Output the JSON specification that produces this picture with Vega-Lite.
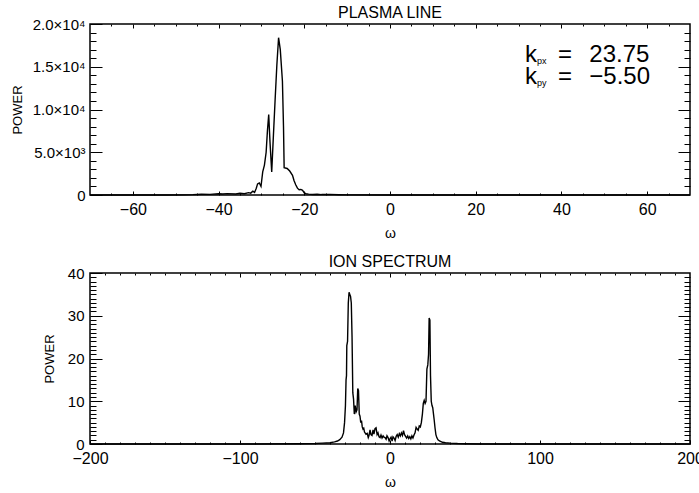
{
  "$schema": "https://vega.github.io/schema/vega-lite/v6.json",
  "padding": {"left": 10, "top": 4, "right": 0, "bottom": 0},
  "spacing": 12,
  "datasets": {
    "plasma": [
      {"w": -70, "p": 0}, {"w": -60, "p": 0}, {"w": -52, "p": 5}, {"w": -48, "p": 15}, {"w": -46, "p": 40},
      {"w": -44, "p": 90}, {"w": -42, "p": 70}, {"w": -40, "p": 140}, {"w": -39, "p": 110}, {"w": -38, "p": 160},
      {"w": -36, "p": 120}, {"w": -35, "p": 200}, {"w": -34, "p": 150}, {"w": -33, "p": 280}, {"w": -32.5, "p": 220},
      {"w": -32, "p": 450}, {"w": -31.6, "p": 300}, {"w": -31.2, "p": 800}, {"w": -30.9, "p": 1300}, {"w": -30.5, "p": 1400},
      {"w": -30.1, "p": 1000}, {"w": -29.7, "p": 2700}, {"w": -29.3, "p": 3500}, {"w": -28.9, "p": 5000}, {"w": -28.6, "p": 7500},
      {"w": -28.3, "p": 9400}, {"w": -28.0, "p": 6200}, {"w": -27.6, "p": 2700}, {"w": -27.2, "p": 7000}, {"w": -26.8, "p": 11200},
      {"w": -26.4, "p": 15200}, {"w": -26.0, "p": 18400}, {"w": -25.6, "p": 17000}, {"w": -25.1, "p": 13300}, {"w": -24.85, "p": 8000},
      {"w": -24.7, "p": 3200}, {"w": -24.0, "p": 3100}, {"w": -23.4, "p": 2800}, {"w": -22.75, "p": 2300}, {"w": -22.4, "p": 1700},
      {"w": -22.0, "p": 1200}, {"w": -21.6, "p": 800}, {"w": -21.2, "p": 620}, {"w": -20.8, "p": 650}, {"w": -20.4, "p": 550},
      {"w": -20.0, "p": 250}, {"w": -19.6, "p": 150}, {"w": -19, "p": 100}, {"w": -18, "p": 60}, {"w": -17, "p": 90},
      {"w": -16, "p": 50}, {"w": -14, "p": 70}, {"w": -12, "p": 30}, {"w": -10, "p": 10}, {"w": 0, "p": 0}, {"w": 70, "p": 0}
    ],
    "ion": [
      {"w": -200, "p": 0}, {"w": -100, "p": 0}, {"w": -60, "p": 0.05}, {"w": -50, "p": 0.1}, {"w": -45, "p": 0.2},
      {"w": -40, "p": 0.3}, {"w": -37, "p": 0.5}, {"w": -35, "p": 0.7}, {"w": -33.5, "p": 1.0}, {"w": -32, "p": 1.6},
      {"w": -31, "p": 2.6}, {"w": -30.3, "p": 5}, {"w": -29.7, "p": 9}, {"w": -29.3, "p": 15}, {"w": -29.0, "p": 16},
      {"w": -28.8, "p": 23}, {"w": -28.3, "p": 24}, {"w": -27.8, "p": 33}, {"w": -27.3, "p": 35.5}, {"w": -26.8, "p": 35},
      {"w": -26.3, "p": 34.5}, {"w": -25.8, "p": 33}, {"w": -25.3, "p": 25}, {"w": -24.8, "p": 12}, {"w": -24.3, "p": 10.5},
      {"w": -23.8, "p": 7}, {"w": -23.2, "p": 9}, {"w": -22.6, "p": 7.5}, {"w": -22.0, "p": 8}, {"w": -21.5, "p": 13},
      {"w": -21.0, "p": 12.5}, {"w": -20.5, "p": 7}, {"w": -20.0, "p": 6.5}, {"w": -19.5, "p": 5}, {"w": -19.0, "p": 5.5},
      {"w": -18.5, "p": 4}, {"w": -18.0, "p": 3.5}, {"w": -17.5, "p": 3.7}, {"w": -17.0, "p": 2.8}, {"w": -16.0, "p": 2.3},
      {"w": -15.2, "p": 2.5}, {"w": -14.5, "p": 1.5}, {"w": -14.0, "p": 2.0}, {"w": -13.3, "p": 3.3}, {"w": -12.7, "p": 2.2},
      {"w": -12.0, "p": 2.0}, {"w": -11.3, "p": 3.3}, {"w": -10.7, "p": 2.3}, {"w": -10.0, "p": 3.6}, {"w": -9.3, "p": 3.8},
      {"w": -8.6, "p": 2.2}, {"w": -8.0, "p": 2.6}, {"w": -7.3, "p": 1.7}, {"w": -6.6, "p": 1.5}, {"w": -6.0, "p": 2.1},
      {"w": -5.3, "p": 1.4}, {"w": -4.6, "p": 1.9}, {"w": -4.0, "p": 1.6}, {"w": -3.3, "p": 1.5}, {"w": -2.6, "p": 1.1},
      {"w": -2.0, "p": 1.9}, {"w": -1.3, "p": 1.5}, {"w": -0.6, "p": 0.7}, {"w": 0.0, "p": 1.2}, {"w": 0.7, "p": 1.6},
      {"w": 1.4, "p": 0.7}, {"w": 2.0, "p": 1.7}, {"w": 2.7, "p": 1.4}, {"w": 3.4, "p": 0.8}, {"w": 4.1, "p": 1.8},
      {"w": 4.8, "p": 2.2}, {"w": 5.5, "p": 1.6}, {"w": 6.2, "p": 2.4}, {"w": 6.9, "p": 1.9}, {"w": 7.6, "p": 2.6},
      {"w": 8.3, "p": 2.0}, {"w": 9.0, "p": 3.1}, {"w": 9.7, "p": 2.2}, {"w": 10.4, "p": 1.8}, {"w": 11.1, "p": 1.4},
      {"w": 11.8, "p": 1.9}, {"w": 12.5, "p": 1.3}, {"w": 13.2, "p": 1.7}, {"w": 13.9, "p": 1.2}, {"w": 14.6, "p": 1.9},
      {"w": 15.3, "p": 1.4}, {"w": 16.0, "p": 2.1}, {"w": 16.7, "p": 2.6}, {"w": 17.4, "p": 3.9}, {"w": 18.1, "p": 3.5},
      {"w": 18.8, "p": 3.2}, {"w": 19.5, "p": 4.2}, {"w": 20.2, "p": 4.0}, {"w": 20.9, "p": 5.0}, {"w": 21.6, "p": 7.0},
      {"w": 22.2, "p": 9.5}, {"w": 22.8, "p": 10.2}, {"w": 23.4, "p": 9.5}, {"w": 24.0, "p": 10}, {"w": 24.6, "p": 17.5},
      {"w": 25.2, "p": 18.5}, {"w": 25.7, "p": 21}, {"w": 26.1, "p": 29.5}, {"w": 26.6, "p": 29}, {"w": 27.0, "p": 16},
      {"w": 27.5, "p": 10}, {"w": 28.0, "p": 9}, {"w": 28.5, "p": 8.5}, {"w": 29.0, "p": 7}, {"w": 29.5, "p": 5.5},
      {"w": 30.0, "p": 3.8}, {"w": 30.6, "p": 2.2}, {"w": 31.2, "p": 1.5}, {"w": 32, "p": 1.0}, {"w": 33, "p": 0.7},
      {"w": 35, "p": 0.4}, {"w": 37, "p": 0.3}, {"w": 40, "p": 0.2}, {"w": 45, "p": 0.1}, {"w": 50, "p": 0.05},
      {"w": 60, "p": 0}, {"w": 200, "p": 0}
    ],
    "ann": [
      {"w": 31.5, "p": 15560, "t": "k"}, {"w": 39.2, "p": 15560, "t": "="}, {"w": 46.5, "p": 15560, "t": "23.75"},
      {"w": 31.5, "p": 13020, "t": "k"}, {"w": 39.2, "p": 13020, "t": "="}, {"w": 46.5, "p": 13020, "t": "−5.50"},
      {"w": 34.3, "p": 15350, "t": "px"}, {"w": 34.3, "p": 12800, "t": "py"}
    ]
  },
  "vconcat": [
    {
      "width": 600,
      "height": 171,
      "title": {"text": "PLASMA LINE"},
      "layer": [
        {
          "data": {"name": "plasma"},
          "mark": {"type": "line", "color": "black", "strokeWidth": 1.4},
          "encoding": {
            "x": {"field": "w", "type": "quantitative", "scale": {"domain": [-70, 70], "nice": false, "zero": false},
              "axis": {"orient": "bottom", "values": [-60, -40, -20, 0, 20, 40, 60], "tickColor": "black", "tickSize": 4, "offset": -4, "labelFontSize": 16, "labelPadding": 6, "title": "ω", "titleFontSize": 14, "titlePadding": 9}},
            "y": {"field": "p", "type": "quantitative", "scale": {"domain": [0, 20000], "nice": false},
              "axis": {"orient": "left", "values": [0, 5000, 10000, 15000, 20000], "tickColor": "black", "tickSize": 12, "offset": -12, "labelFontSize": 15, "labelPadding": 5,
                "labelExpr": "datum.value == 0 ? '0' : datum.value == 5000 ? '5.0×10³' : datum.value == 10000 ? '1.0×10⁴' : datum.value == 15000 ? '1.5×10⁴' : '2.0×10⁴'",
                "title": "POWER", "titleFontSize": 13, "titlePadding": 8}}
          }
        },
        {
          "data": {"name": "plasma"},
          "mark": {"type": "line", "opacity": 0},
          "encoding": {
            "x": {"field": "w", "type": "quantitative", "axis": {"orient": "bottom", "values": [-65, -55, -50, -45, -35, -30, -25, -15, -10, -5, 5, 10, 15, 25, 30, 35, 45, 50, 55, 65], "labels": false, "tickColor": "black", "tickSize": 2, "offset": -2, "zindex": 1, "title": null}},
            "y": {"field": "p", "type": "quantitative", "axis": {"orient": "left", "values": [1000, 2000, 3000, 4000, 6000, 7000, 8000, 9000, 11000, 12000, 13000, 14000, 16000, 17000, 18000, 19000], "labels": false, "tickColor": "black", "tickSize": 6, "offset": -6, "zindex": 1, "title": null}}
          }
        },
        {
          "data": {"name": "plasma"},
          "mark": {"type": "line", "opacity": 0},
          "encoding": {
            "x": {"field": "w", "type": "quantitative", "axis": {"orient": "top", "values": [-60, -40, -20, 0, 20, 40, 60], "labels": false, "tickColor": "black", "tickSize": 4, "offset": -4, "zindex": 1, "title": null}},
            "y": {"field": "p", "type": "quantitative", "axis": {"orient": "right", "values": [5000, 10000, 15000], "labels": false, "tickColor": "black", "tickSize": 12, "offset": -12, "zindex": 1, "title": null}}
          }
        },
        {
          "data": {"name": "ann"},
          "mark": {"type": "text", "align": "left", "baseline": "alphabetic", "color": "black"},
          "encoding": {
            "x": {"field": "w", "type": "quantitative", "axis": {"orient": "top", "values": [-65, -55, -50, -45, -35, -30, -25, -15, -10, -5, 5, 10, 15, 25, 30, 35, 45, 50, 55, 65], "labels": false, "tickColor": "black", "tickSize": 2, "offset": -2, "zindex": 1, "title": null}},
            "y": {"field": "p", "type": "quantitative", "axis": {"orient": "right", "values": [1000, 2000, 3000, 4000, 6000, 7000, 8000, 9000, 11000, 12000, 13000, 14000, 16000, 17000, 18000, 19000], "labels": false, "tickColor": "black", "tickSize": 6, "offset": -6, "zindex": 1, "title": null}},
            "text": {"field": "t"},
            "size": {"condition": {"test": "datum.t === 'px' || datum.t === 'py'", "value": 9}, "value": 24}
          }
        }
      ],
      "resolve": {"axis": {"x": "independent", "y": "independent"}}
    },
    {
      "width": 600,
      "height": 171,
      "title": {"text": "ION SPECTRUM"},
      "layer": [
        {
          "data": {"name": "ion"},
          "mark": {"type": "line", "color": "black", "strokeWidth": 1.4},
          "encoding": {
            "x": {"field": "w", "type": "quantitative", "scale": {"domain": [-200, 200], "nice": false, "zero": false},
              "axis": {"orient": "bottom", "values": [-200, -100, 0, 100, 200], "tickColor": "black", "tickSize": 4, "offset": -4, "labelFontSize": 16, "labelPadding": 6, "title": "ω", "titleFontSize": 14, "titlePadding": 9}},
            "y": {"field": "p", "type": "quantitative", "scale": {"domain": [0, 40], "nice": false},
              "axis": {"orient": "left", "values": [0, 10, 20, 30, 40], "tickColor": "black", "tickSize": 12, "offset": -12, "labelFontSize": 15, "labelPadding": 6, "title": "POWER", "titleFontSize": 13, "titlePadding": 11}}
          }
        },
        {
          "data": {"name": "ion"},
          "mark": {"type": "line", "opacity": 0},
          "encoding": {
            "x": {"field": "w", "type": "quantitative", "axis": {"orient": "bottom", "values": [-190, -180, -170, -160, -150, -140, -130, -120, -110, -90, -80, -70, -60, -50, -40, -30, -20, -10, 10, 20, 30, 40, 50, 60, 70, 80, 90, 110, 120, 130, 140, 150, 160, 170, 180, 190], "labels": false, "tickColor": "black", "tickSize": 2, "offset": -2, "zindex": 1, "title": null}},
            "y": {"field": "p", "type": "quantitative", "axis": {"orient": "left", "values": [1, 2, 3, 4, 5, 6, 7, 8, 9, 11, 12, 13, 14, 15, 16, 17, 18, 19, 21, 22, 23, 24, 25, 26, 27, 28, 29, 31, 32, 33, 34, 35, 36, 37, 38, 39], "labels": false, "tickColor": "black", "tickSize": 6, "offset": -6, "zindex": 1, "title": null}}
          }
        },
        {
          "data": {"name": "ion"},
          "mark": {"type": "line", "opacity": 0},
          "encoding": {
            "x": {"field": "w", "type": "quantitative", "axis": {"orient": "top", "values": [-100, 0, 100], "labels": false, "tickColor": "black", "tickSize": 4, "offset": -4, "zindex": 1, "title": null}},
            "y": {"field": "p", "type": "quantitative", "axis": {"orient": "right", "values": [10, 20, 30], "labels": false, "tickColor": "black", "tickSize": 12, "offset": -12, "zindex": 1, "title": null}}
          }
        },
        {
          "data": {"name": "ion"},
          "mark": {"type": "line", "opacity": 0},
          "encoding": {
            "x": {"field": "w", "type": "quantitative", "axis": {"orient": "top", "values": [-190, -180, -170, -160, -150, -140, -130, -120, -110, -90, -80, -70, -60, -50, -40, -30, -20, -10, 10, 20, 30, 40, 50, 60, 70, 80, 90, 110, 120, 130, 140, 150, 160, 170, 180, 190], "labels": false, "tickColor": "black", "tickSize": 2, "offset": -2, "zindex": 1, "title": null}},
            "y": {"field": "p", "type": "quantitative", "axis": {"orient": "right", "values": [1, 2, 3, 4, 5, 6, 7, 8, 9, 11, 12, 13, 14, 15, 16, 17, 18, 19, 21, 22, 23, 24, 25, 26, 27, 28, 29, 31, 32, 33, 34, 35, 36, 37, 38, 39], "labels": false, "tickColor": "black", "tickSize": 6, "offset": -6, "zindex": 1, "title": null}}
          }
        }
      ],
      "resolve": {"axis": {"x": "independent", "y": "independent"}}
    }
  ],
  "config": {
    "font": "Liberation Sans",
    "view": {"stroke": "black", "strokeWidth": 1.5},
    "axis": {"labelColor": "black", "titleColor": "black", "tickColor": "black", "tickWidth": 1, "domain": false, "grid": false, "labelFlush": false, "labelOverlap": false, "titleFontWeight": "normal"},
    "title": {"fontWeight": "normal", "fontSize": 16, "color": "black", "offset": -4}
  }
}
